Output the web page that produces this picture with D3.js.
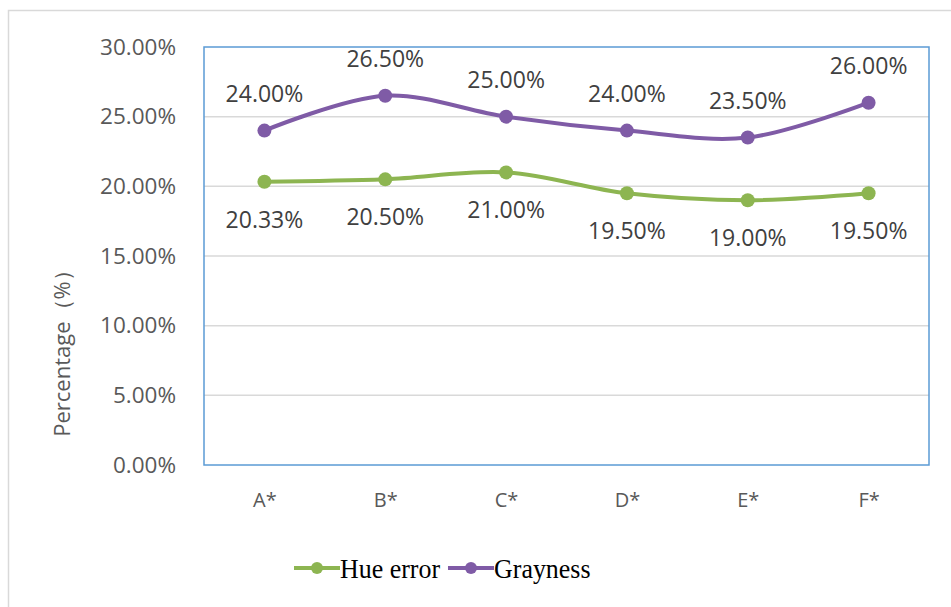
<!DOCTYPE html>
<html>
<head>
<meta charset="utf-8">
<script src="https://cdn.jsdelivr.net/npm/d3@7"></script>
<style>
  body { margin: 0; background: #fff; }
  svg text { font-family: "Open Sans", "DejaVu Sans", sans-serif; }
</style>
</head>
<body>
<div id="chart"></div>
<script>
// chart data
var categories = ['A*', 'B*', 'C*', 'D*', 'E*', 'F*'];
var hueError = [20.33, 20.50, 21.00, 19.50, 19.00, 19.50];
var grayness = [24.00, 26.50, 25.00, 24.00, 23.50, 26.00];
var yTicks = [0, 5, 10, 15, 20, 25, 30];
var seriesNames = ['Hue error', 'Grayness'];

var width = 951, height = 607;
var margin = {top: 47, right: 22, bottom: 142, left: 204};
var drawWidth = width - margin.left - margin.right;
var drawHeight = height - margin.top - margin.bottom;

var svg = d3.select('#chart').append('svg')
    .attr('width', width)
    .attr('height', height);

// outer frame
svg.append('rect')
    .attr('x', 8.5).attr('y', 10.5)
    .attr('width', 960).attr('height', 620)
    .attr('fill', 'none')
    .attr('stroke', '#d9d9d9')
    .attr('stroke-width', 1.5);

var g = svg.append('g')
    .attr('transform', 'translate(' + margin.left + ',' + margin.top + ')');

var xScale = d3.scalePoint().domain(categories).range([0, drawWidth]).padding(0.5);
var yScale = d3.scaleLinear().domain([0, 30]).range([drawHeight, 0]);

// gridlines
g.selectAll('.grid').data(yTicks.slice(1, -1))
    .enter().append('line')
    .attr('class', 'grid')
    .attr('x1', 0).attr('x2', drawWidth)
    .attr('y1', function(d) { return yScale(d); })
    .attr('y2', function(d) { return yScale(d); })
    .attr('stroke', '#d9d9d9')
    .attr('stroke-width', 1.5);

// y axis labels
var yAxis = d3.axisLeft(yScale).tickValues(yTicks).tickSize(0).tickPadding(28)
    .tickFormat(function(d) { return d.toFixed(2) + '%'; });
var yG = g.append('g').call(yAxis);
yG.select('.domain').remove();
yG.selectAll('text').attr('font-size', 22.5).attr('fill', '#595959');

// x axis labels
var xAxis = d3.axisBottom(xScale).tickSize(0).tickPadding(28);
var xG = g.append('g').attr('transform', 'translate(0,' + drawHeight + ')').call(xAxis);
xG.select('.domain').remove();
xG.selectAll('text').attr('font-size', 20).attr('fill', '#595959');

// plot border
g.append('rect')
    .attr('width', drawWidth).attr('height', drawHeight)
    .attr('fill', 'none')
    .attr('stroke', '#5b9bd5')
    .attr('stroke-width', 1.5);

// y axis title
svg.append('text')
    .attr('transform', 'translate(70,348) rotate(-90)')
    .attr('text-anchor', 'middle')
    .attr('font-size', 22)
    .attr('fill', '#595959')
    .text('Percentage（%）');

var series = [
    {name: seriesNames[0], values: hueError, color: '#8db551', labelDy: 46},
    {name: seriesNames[1], values: grayness, color: '#7f5ba6', labelDy: -29}
];

var line = d3.line()
    .x(function(d, i) { return xScale(categories[i]); })
    .y(function(d) { return yScale(d); })
    .curve(d3.curveCatmullRom.alpha(0.5));

series.forEach(function(s) {
    g.append('path')
        .attr('d', line(s.values))
        .attr('fill', 'none')
        .attr('stroke', s.color)
        .attr('stroke-width', 4);

    g.selectAll(null).data(s.values)
        .enter().append('circle')
        .attr('cx', function(d, i) { return xScale(categories[i]); })
        .attr('cy', function(d) { return yScale(d); })
        .attr('r', 7)
        .attr('fill', s.color);

    g.selectAll(null).data(s.values)
        .enter().append('text')
        .attr('x', function(d, i) { return xScale(categories[i]); })
        .attr('y', function(d) { return yScale(d) + s.labelDy; })
        .attr('text-anchor', 'middle')
        .attr('font-size', 23)
        .attr('fill', '#404040')
        .text(function(d) { return d.toFixed(2) + '%'; });
});

// legend
var legend = svg.append('g').attr('transform', 'translate(294,568)');
var lx = 0;
series.forEach(function(s) {
    var item = legend.append('g').attr('transform', 'translate(' + lx + ',0)');
    item.append('line')
        .attr('x1', 0).attr('x2', 46)
        .attr('stroke', s.color).attr('stroke-width', 4);
    item.append('circle')
        .attr('cx', 23).attr('r', 6).attr('fill', s.color);
    var t = item.append('text')
        .attr('x', 48).attr('y', 10)
        .attr('font-size', 27)
        .style('font-family', '"Liberation Serif", "Times New Roman", serif')
        .attr('transform', 'scale(0.96,1)')
        .attr('fill', '#000')
        .text(s.name);
    lx += 48 + t.node().getComputedTextLength() * 0.96 + 6;
});
</script>
</body>
</html>
